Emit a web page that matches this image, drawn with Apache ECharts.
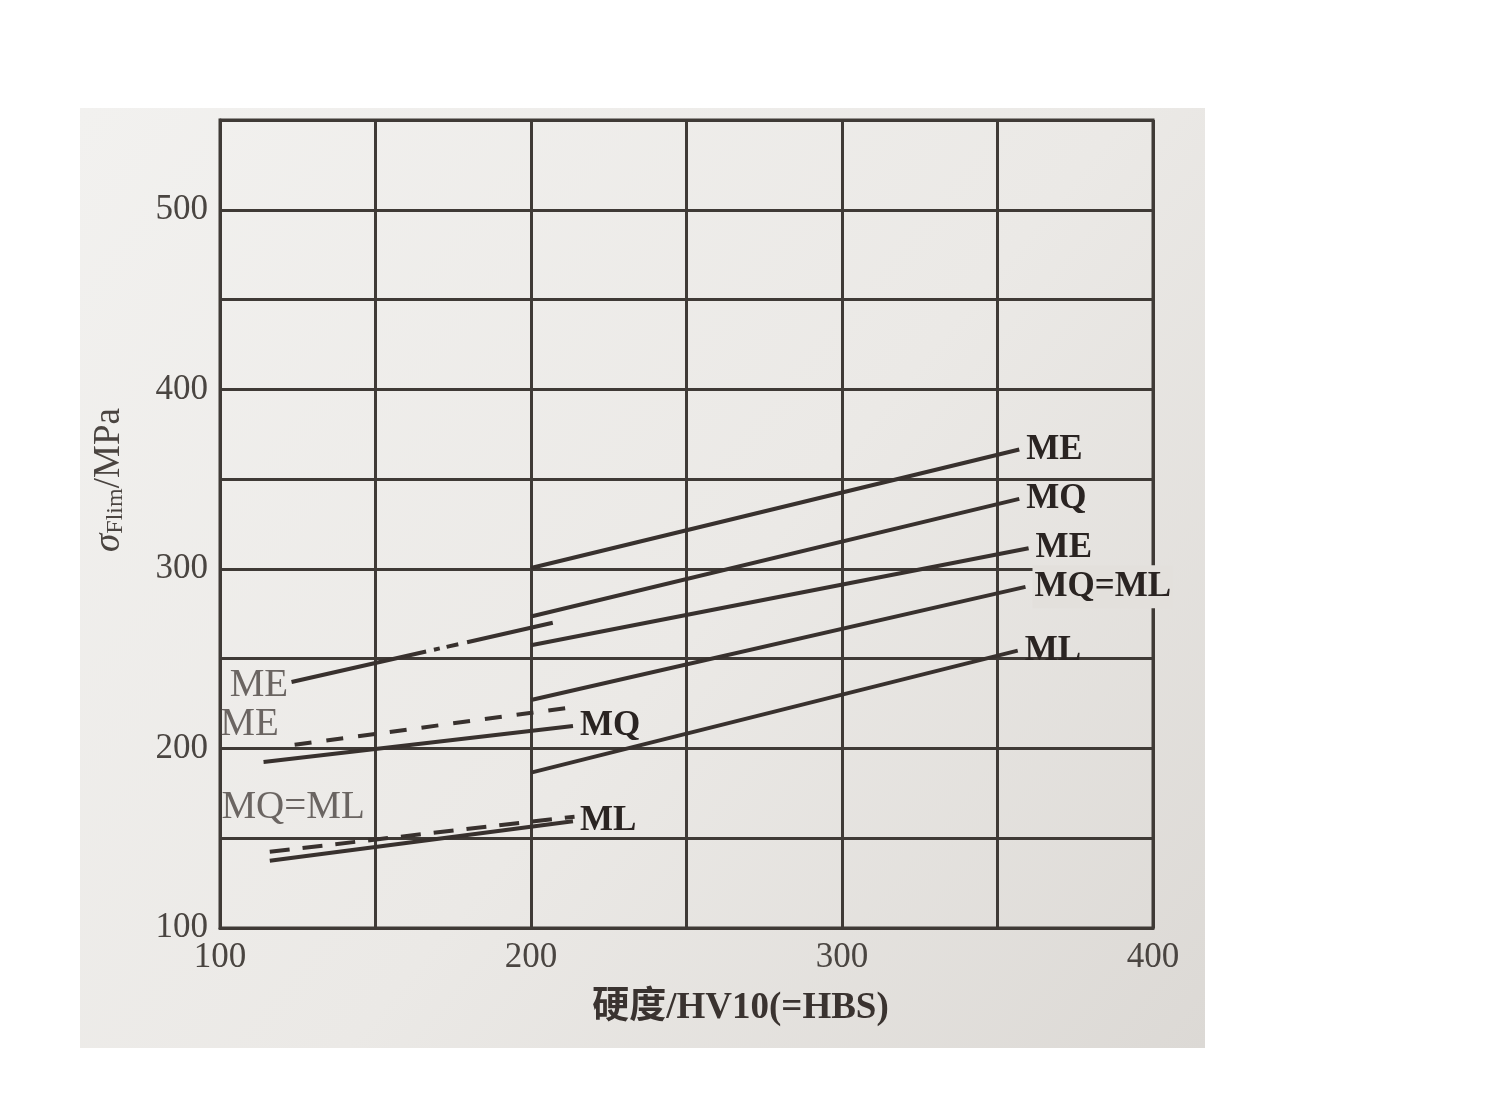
<!DOCTYPE html>
<html>
<head>
<meta charset="utf-8">
<script src="https://cdn.jsdelivr.net/npm/echarts@6/dist/echarts.min.js"></script>
<style>
html,body{margin:0;padding:0;background:#ffffff;}
#chart{width:1510px;height:1120px;}
</style>
</head>
<body>
<div id="chart"></div>
<script>
// ---- data ----
const xLabelTicks = [100, 200, 300, 400];
const yLabelTicks = [100, 200, 300, 400, 500];

// right-hand family (200 ... ~360 HV10)
const meHigh   = [[200, 300.5], [357, 366.5]];
const mqHigh   = [[200, 273.5], [357, 339]];
const meMid    = [[200, 257.5], [360, 311.5]];
const mqmlHigh = [[200, 227],   [359, 290]];
const mlHigh   = [[200, 186.5], [356.5, 254.5]];

// left-hand family (~115 ... ~215 HV10)
const meLowDashDot  = [[123, 237],   [207, 270]];
const meLowDashed   = [[124, 202],   [215.5, 223.5]];
const mqLow         = [[114, 192.5], [213.5, 212.5]];
const mqmlLowDashed = [[116, 142.5], [214, 162]];
const mlLow         = [[116, 137.5], [213.5, 159.5]];

// free-standing labels on the left side [x, y, text]
const leftLabels = [[112.5, 235, 'ME'], [109.5, 213, 'ME'], [123.5, 167, 'MQ=ML']];

// ---- chart ----
const INK = '#38312e';
const GRIDINK = '#3f3a36';
const SERIF = "'Liberation Serif','DejaVu Serif','Noto Sans CJK SC',serif";

function lineSeries(name, data, label, type, labelBg) {
  return {
    name: name,
    type: 'line',
    data: data,
    symbol: 'none',
    silent: true,
    lineStyle: { color: INK, width: 4, type: type || 'solid', cap: 'butt' },
    endLabel: label ? {
      show: true,
      formatter: label,
      distance: 7,
      color: '#2a2422',
      fontFamily: SERIF,
      fontSize: 35,
      fontWeight: 'bold',
      backgroundColor: labelBg || 'transparent',
      padding: labelBg ? [4, 2, 4, 2] : 0
    } : { show: false },
    z: 5
  };
}

const chart = echarts.init(document.getElementById('chart'), null, { renderer: 'canvas' });
chart.setOption({
  animation: false,
  backgroundColor: '#ffffff',
  graphic: [{
    type: 'rect',
    z: -10,
    silent: true,
    shape: { x: 80, y: 108, width: 1125, height: 940 },
    style: {
      fill: {
        type: 'linear', x: 0, y: 0, x2: 1, y2: 1,
        colorStops: [
          { offset: 0, color: '#f2f1ef' },
          { offset: 0.55, color: '#ebe9e6' },
          { offset: 1, color: '#dcd9d5' }
        ]
      }
    }
  }],
  grid: { left: 220, right: 357, top: 120, bottom: 192, show: true, borderColor: GRIDINK, borderWidth: 3, backgroundColor: 'transparent' },
  xAxis: {
    type: 'value',
    min: 100, max: 400, interval: 50,
    axisLine: { show: true, lineStyle: { color: GRIDINK, width: 3 } },
    axisTick: { show: false },
    splitLine: { show: true, lineStyle: { color: GRIDINK, width: 3 } },
    axisLabel: {
      margin: 12,
      color: '#4a4541',
      fontFamily: SERIF,
      fontSize: 35,
      formatter: function (v) { return xLabelTicks.indexOf(v) >= 0 ? String(v) : ''; }
    },
    name: '硬度/HV10(=HBS)',
    nameLocation: 'middle',
    nameGap: 62,
    nameTextStyle: {
      color: '#3a3330',
      fontFamily: SERIF,
      fontSize: 37,
      fontWeight: 'bold',
      padding: [0, 0, 0, 108]
    }
  },
  yAxis: {
    type: 'value',
    min: 100, max: 550, interval: 50,
    axisLine: { show: true, lineStyle: { color: GRIDINK, width: 3 } },
    axisTick: { show: false },
    splitLine: { show: true, lineStyle: { color: GRIDINK, width: 3 } },
    axisLabel: {
      margin: 12,
      color: '#4a4541',
      fontFamily: SERIF,
      fontSize: 35,
      formatter: function (v) { return yLabelTicks.indexOf(v) >= 0 ? String(v) : ''; }
    },
    name: '{s|σ}{sub|Flim}{n|/MPa}',
    nameLocation: 'middle',
    nameRotate: 90,
    nameGap: 92,
    nameTextStyle: {
      padding: [0, 0, 0, 88],
      rich: {
        s: { fontFamily: SERIF, fontStyle: 'italic', fontSize: 37, color: '#4a4440' },
        sub: { fontFamily: SERIF, fontSize: 24, color: '#4a4440', padding: [14, 0, 0, 0], verticalAlign: 'bottom' },
        n: { fontFamily: SERIF, fontSize: 37, color: '#4a4440' }
      }
    }
  },
  series: [
    lineSeries('ME_high', meHigh, 'ME'),
    lineSeries('MQ_high', mqHigh, 'MQ'),
    lineSeries('ME_mid', meMid, 'ME'),
    lineSeries('MQML_high', mqmlHigh, 'MQ=ML', null, '#e3e0dc'),
    lineSeries('ML_high', mlHigh, 'ML'),
    lineSeries('ME_low_dashdot', meLowDashDot, null, [138, 8, 6, 7, 12, 9, 300]),
    lineSeries('ME_low_dashed', meLowDashed, null, [17, 15]),
    lineSeries('MQ_low', mqLow, 'MQ'),
    lineSeries('MQML_low_dashed', mqmlLowDashed, null, [20, 13]),
    lineSeries('ML_low', mlLow, 'ML'),
    {
      name: 'leftLabels',
      type: 'scatter',
      silent: true,
      symbolSize: 0,
      data: leftLabels.map(function (d) { return { value: [d[0], d[1]], name: d[2] }; }),
      label: {
        show: true,
        position: 'inside',
        formatter: function (p) { return p.name; },
        color: '#4a4440',
        fontFamily: SERIF,
        fontSize: 39
      },
      z: 6
    }
  ]
});
</script>
</body>
</html>
